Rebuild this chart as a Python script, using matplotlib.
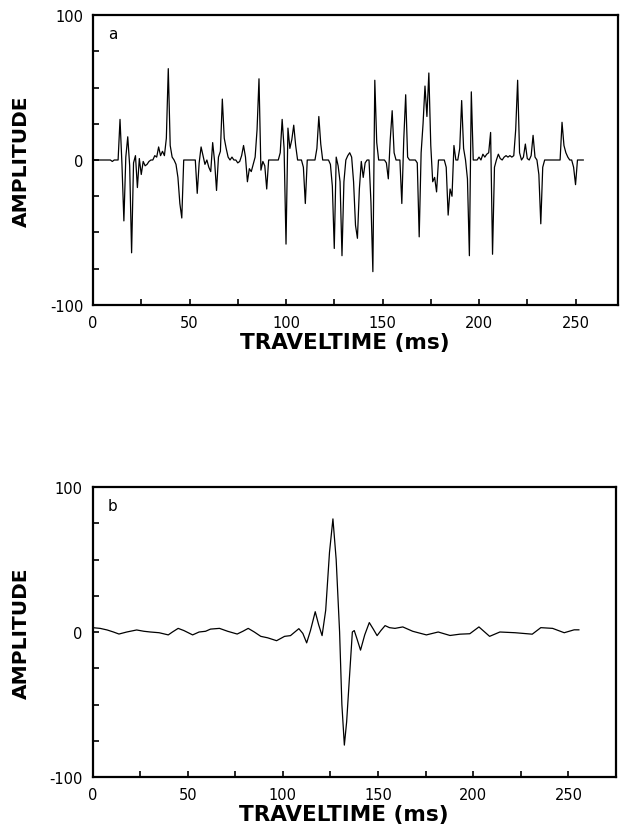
import numpy as np
import matplotlib.pyplot as plt
from matplotlib.ticker import MultipleLocator

plt.rcParams['font.family'] = 'DejaVu Sans'
plt.rcParams['axes.unicode_minus'] = False

# Reflectivity series (panel a): 1 ms samples, zero except at these times
n_samples = 255
spike_ms = [10, 14, 15, 16, 17, 18, 19, 20, 21, 22, 23, 24, 25, 26, 27, 28, 29,
            32, 33, 34, 35, 36, 37, 38, 39, 40, 41, 43, 44, 45, 46,
            54, 55, 56, 57, 58, 59, 60, 61, 62, 63, 64, 65, 66, 67, 68, 69, 70,
            72, 75, 76, 77, 78, 79, 80, 81, 82, 83, 84, 85, 86, 87, 88, 89, 90,
            97, 98, 99, 100, 101, 102, 103, 104, 105, 109, 110, 116, 117, 118,
            123, 124, 125, 126, 127, 128, 129, 130, 132, 133, 134, 135, 136, 137,
            138, 139, 140, 141,
            144, 145, 146, 147, 152, 153, 154, 155, 156, 160, 161, 162, 163,
            168, 169, 170, 171, 172, 173, 174, 175, 176, 177, 178,
            183, 184, 185, 186, 187, 190, 191, 192, 194, 195, 196,
            200, 202, 203, 204, 205, 206, 207, 208, 210, 211, 213, 214, 215, 216,
            217, 218, 219, 220, 221, 223, 224, 225, 227, 228, 229, 231, 232, 233,
            243, 244, 245, 246, 249, 250]
spike_amp = [-1, 28, -3, -42, 2, 16, -4, -64, -2, 3, -19, 1, -10, -1, -4, -3, -1,
             3, 2, 9, 3, 6, 3, 15, 63, 10, 2, -3, -12, -30, -40,
             -23, -2, 9, 3, -3, 0, -5, -8, 12, -1, -21, 2, 6, 42, 15, 8, 2,
             2, -2, -1, 3, 10, 2, -15, -6, -8, -3, 2, 21, 56, -7, -1, -4, -20,
             5, 28, 8, -58, 22, 8, 14, 24, 10, -5, -30, 8, 30, 11,
             -3, -18, -61, 2, -4, -15, -66, -15, 3, 5, 2, -15, -45, -54,
             -20, -1, -12, -2,
             -29, -77, 55, 12, -2, -13, 14, 34, 5, -30, 14, 45, 2,
             -2, -53, 5, 25, 51, 30, 60, 10, -15, -12, -22,
             -5, -38, -20, -25, 10, 8, 41, 8, -13, -66, 47,
             2, 4, 2, 4, 5, 19, -65, -5, 4, 1, 2, 3, 2, 3,
             2, 3, 21, 55, 5, 2, 11, 1, 3, 17, 2, -10, -44, -5,
             26, 10, 5, 2, -5, -17]

# Wavelet trace (panel b)
wav_ms = [0, 4, 7.7, 11, 13.9, 18, 23.2, 27, 30.4, 35, 39.8, 42, 45, 48, 52.6,
          56, 59.4, 62, 66.7, 71, 76, 79, 81.8, 85, 88.4, 92, 96.7, 100.9, 104,
          108.4, 110.5, 112.5, 114.5, 117, 118.8, 120.6, 122.5, 124.5, 126.3,
          128, 129.8, 131, 132.3, 133.5, 134.8, 136.5, 137.5, 139, 140.8, 143,
          145.4, 147.5, 149.5, 151.5, 153.7, 156, 158.9, 163, 168.2, 175.4,
          181.6, 187.8, 193, 198.2, 203, 208.6, 214, 222, 231, 235.5, 241.7,
          247.8, 253, 255.5]
wav_amp = [3, 2.5, 1.4, 0, -1.4, 0, 1.4, 0.5, 0, -0.5, -2, 0, 2.5, 1, -2,
           0, 0.5, 2, 2.5, 0.5, -1.4, 0.5, 2.5, 0, -3, -4, -6, -3, -2.5,
           2.3, -1, -7.5, 1, 14, 5, -2.5, 15, 55, 78,
           50, 0, -50, -78, -62, -35, 0, 1, -5, -12.5, -2,
           6.5, 2, -2.5, 1, 4.4, 3, 2.5, 3.5, 0.5, -2,
           0, -2.4, -1.5, -1.2, 3.5, -3, 0, -0.5, -1.5, 3, 2.5,
           -0.5, 1.5, 1.5]

reflectivity = np.zeros(n_samples)
reflectivity[spike_ms] = spike_amp
t = np.arange(n_samples)

fig = plt.figure(figsize=(6.2, 8.29), dpi=100)
ax_a = fig.add_axes([93 / 620, 1 - 306 / 829, (618 - 93) / 620, 290 / 829])
ax_b = fig.add_axes([92.5 / 620, 1 - 778 / 829, (616 - 92.5) / 620, 290 / 829])


def style_axes(ax, xmax, letter):
    ax.set_xlim(0, xmax)
    ax.set_ylim(-100, 100)
    ax.xaxis.set_major_locator(MultipleLocator(50))
    ax.xaxis.set_minor_locator(MultipleLocator(25))
    ax.yaxis.set_major_locator(MultipleLocator(100))
    ax.yaxis.set_minor_locator(MultipleLocator(25))
    ax.tick_params(which='both', direction='in', length=4, width=1.2,
                   labelsize=10.5, pad=7)
    for s in ax.spines.values():
        s.set_linewidth(1.6)
    ax.set_xlabel('TRAVELTIME (ms)', fontsize=15.5, fontweight='bold')
    ax.set_ylabel('AMPLITUDE', fontsize=14.5, fontweight='bold')
    ax.xaxis.set_label_coords(0.48, -0.092)
    ax.yaxis.set_label_coords(-0.118, 0.5)
    ax.text(0.028, 0.935, letter, transform=ax.transAxes, fontsize=11,
            va='center', ha='left')


ax_a.plot(t, reflectivity, color='black', lw=0.9)
style_axes(ax_a, 272, 'a')

ax_b.plot(wav_ms, wav_amp, color='black', lw=0.9)
style_axes(ax_b, 275, 'b')

fig.savefig('out.png', dpi=100)
